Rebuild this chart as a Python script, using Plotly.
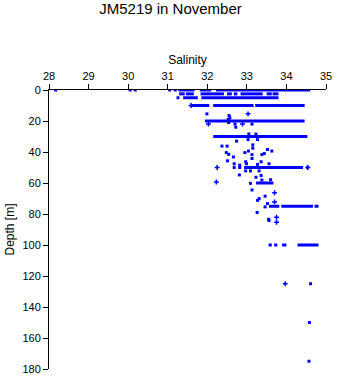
import plotly.graph_objects as go

# Horizontal dense rows of observations (depth, salinity start, salinity end)
seg_depth = [0, 0, 0,
             2.5, 2.5, 2.5, 2.5, 2.5, 2.5, 2.5, 2.5,
             5, 5,
             10, 10, 10,
             20,
             30,
             50, 50,
             60,
             75, 75, 75,
             100, 100, 100, 100]
seg_start = [31.27, 31.81, 32.22,
             31.29, 31.46, 31.83, 32.50, 32.67, 32.84, 33.50, 33.65,
             31.39, 31.85,
             31.58, 32.15, 33.21,
             31.94,
             32.15,
             32.93, 34.50,
             33.23,
             33.56, 33.87, 34.71,
             33.55, 33.69, 33.89, 34.28]
seg_end = [31.68, 32.10, 34.60,
           31.43, 31.66, 32.42, 32.62, 32.76, 33.40, 33.63, 33.80,
           31.76, 33.80,
           32.05, 33.17, 34.46,
           34.46,
           34.53,
           34.42, 34.56,
           33.67,
           33.82, 34.67, 34.81,
           33.63, 33.77, 34.00, 34.81]

# Individual observations (square markers)
pt_sal = [28.17, 30.05, 30.18, 31.05, 31.19, 31.26,
          31.99, 32.55, 32.57, 32.53,
          32.54, 32.70, 33.13, 32.72,
          33.05, 33.23, 33.03, 33.27, 32.74,
          32.37, 32.50, 33.15, 33.15, 33.52, 33.63, 33.04, 32.95, 32.48, 32.54,
          33.44, 33.38, 33.13, 32.66, 33.13, 32.51, 32.97, 33.36, 33.27, 32.68,
          32.82, 32.99, 33.56,
          32.68, 32.82,
          32.97, 33.09, 33.31, 32.81, 33.36, 33.23,
          33.38, 33.60, 33.09, 33.13, 33.46, 33.31, 33.27, 33.52, 33.46,
          33.26, 33.55, 33.56, 34.61, 34.58, 34.57]
pt_depth = [0, 0, 0, 0, 0, 5,
            15.4, 16.5, 18, 19,
            21, 22, 22, 24,
            28.4, 28.4, 32, 32, 33,
            36.2, 36.2, 35.4, 37.5, 38.4, 39.4, 39.4, 40.4, 40.4, 41.5,
            41, 41.7, 41.7, 43.2, 44.2, 45.7, 46.3, 46.3, 48, 47.6,
            48.5, 47.6, 47.6,
            50, 50,
            52.2, 52.2, 52.2, 54.8, 55.2, 56.3,
            58.1, 57.9, 60.2, 64.5, 68.5, 70.1, 71.2, 73.3, 75.4,
            79, 83.4, 84.2, 125, 150, 175]

# Observations drawn with cross markers
cr_sal = [31.59, 33.03, 32.03, 32.89, 32.25, 34.54, 33.70, 33.70, 32.23, 33.75, 33.75, 33.97]
cr_depth = [10, 15.4, 22, 22, 50, 50, 66.3, 72.2, 59.4, 82.1, 85.3, 125]

BLUE = "#0000ff"

seg_x, seg_y = [], []
for d, a, b in zip(seg_depth, seg_start, seg_end):
    seg_x += [a, b, None]
    seg_y += [d, d, None]

fig = go.Figure()
fig.add_trace(go.Scatter(x=seg_x, y=seg_y, mode="lines",
                         line=dict(color=BLUE, width=3), hoverinfo="skip"))
fig.add_trace(go.Scatter(x=pt_sal, y=pt_depth, mode="markers",
                         marker=dict(symbol="square", size=3, color=BLUE, line=dict(width=0))))
fig.add_trace(go.Scatter(x=cr_sal, y=cr_depth, mode="markers",
                         marker=dict(symbol="cross-thin", size=3.5, color=BLUE,
                                     line=dict(width=1.5, color=BLUE))))

font = "Liberation Sans, Arial, Helvetica, sans-serif"
fig.update_layout(
    width=341, height=384,
    margin=dict(l=47, r=9, t=90, b=10),
    paper_bgcolor="white", plot_bgcolor="white",
    showlegend=False,
    font=dict(family=font, size=11, color="black"),
    title=dict(text="JM5219 in November", x=0.5, xanchor="center",
               y=1 - 9 / 384, yanchor="middle", yref="container",
               font=dict(family=font, size=15, color="black")),
    xaxis=dict(side="top", range=[28, 35], tickvals=[28, 29, 30, 31, 32, 33, 34, 35],
               ticks="outside", ticklen=5, tickcolor="black", showline=True,
               linecolor="black", linewidth=1, showgrid=False, zeroline=False,
               title=dict(text="Salinity", standoff=2, font=dict(size=12))),
    yaxis=dict(range=[180, 0], tickvals=list(range(0, 181, 20)),
               ticks="outside", ticklen=5, tickcolor="black", showline=True,
               linecolor="black", linewidth=1, showgrid=False, zeroline=False,
               title=dict(text="Depth [m]", standoff=5, font=dict(size=12))),
)

fig.write_html("out.html")
